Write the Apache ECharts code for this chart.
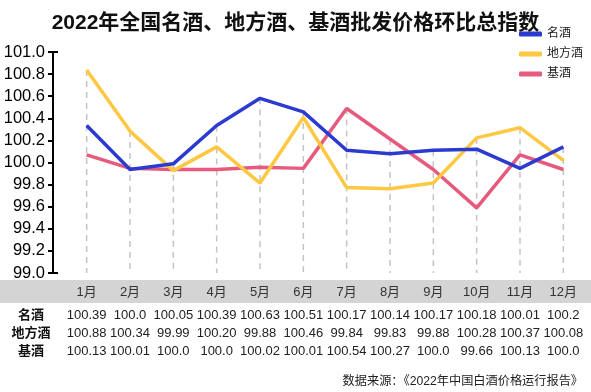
<!DOCTYPE html>
<html><head><meta charset="utf-8">
<script src="https://cdn.jsdelivr.net/npm/echarts@6/dist/echarts.min.js"></script>
<style>html,body{margin:0;padding:0;background:#fff;}#c{width:591px;height:392px;}</style>
</head><body><div id="c"></div>
<script>
const months = ['1月','2月','3月','4月','5月','6月','7月','8月','9月','10月','11月','12月'];
const seriesNames = ['名酒','地方酒','基酒'];
const mingjiu = [100.39,100.0,100.05,100.39,100.63,100.51,100.17,100.14,100.17,100.18,100.01,100.2];
const difangjiu = [100.88,100.34,99.99,100.20,99.88,100.46,99.84,99.83,99.88,100.28,100.37,100.08];
const jijiu = [100.13,100.01,100.0,100.0,100.02,100.01,100.54,100.27,100.0,99.66,100.13,100.0];
const mingjiuText = ['100.39','100.0','100.05','100.39','100.63','100.51','100.17','100.14','100.17','100.18','100.01','100.2'];
const difangjiuText = ['100.88','100.34','99.99','100.20','99.88','100.46','99.84','99.83','99.88','100.28','100.37','100.08'];
const jijiuText = ['100.13','100.01','100.0','100.0','100.02','100.01','100.54','100.27','100.0','99.66','100.13','100.0'];
const yTickMin = 99.0, yTickMax = 101.0, yTickStep = 0.2;
const title = '2022年全国名酒、地方酒、基酒批发价格环比总指数';
const source = '数据来源：《2022年中国白酒价格运行报告》';

const FONT = "'Liberation Sans','Noto Sans CJK SC',sans-serif";
const colors = ['#2b3bd0','#fec842','#e65b7d'];
// the plotted lines in the reference sit slightly below the printed tick labels
const dataMin = 99.084, dataMax = 101.040;
const dropTop = months.map((m,i)=>[i, Math.max(mingjiu[i], difangjiu[i], jijiu[i])]);

const chart = echarts.init(document.getElementById('c'), null, {renderer:'canvas'});
const rowAxis = (texts, off) => ({
  type:'category', data:texts, gridIndex:0, position:'bottom', offset:off,
  axisLine:{show:false}, axisTick:{show:false}, splitLine:{show:false},
  axisLabel:{interval:0, margin:13, fontSize:13, color:'#222', fontFamily:FONT}
});
chart.setOption({
  animation:false,
  textStyle:{fontFamily:FONT},
  title:{text:title, left:'center', top:8, textStyle:{fontSize:21, fontWeight:'bold', color:'#111', fontFamily:FONT}},
  legend:{
    data:seriesNames, orient:'vertical', right:3, top:23, itemGap:8,
    icon:'roundRect', itemWidth:23, itemHeight:5, align:'left',
    textStyle:{fontSize:12, color:'#222', fontFamily:FONT}
  },
  grid:{left:65, right:6, top:52, height:221, containLabel:false},
  xAxis:[
    {type:'category', data:months, position:'bottom',
     axisLine:{show:false}, axisTick:{show:false},
     axisLabel:{interval:0, margin:13, fontSize:13, color:'#333', fontFamily:FONT}},
    rowAxis(mingjiuText, 23),
    rowAxis(difangjiuText, 41),
    rowAxis(jijiuText, 59)
  ],
  yAxis:[
    {type:'value', min:yTickMin, max:yTickMax, interval:yTickStep, offset:12,
     axisLine:{show:true, lineStyle:{color:'#000', width:2}},
     axisTick:{show:true, length:5, lineStyle:{color:'#000', width:2}},
     splitLine:{show:false},
     axisLabel:{margin:8, fontSize:16.5, color:'#000', fontFamily:FONT, formatter:v=>v.toFixed(1)}},
    {type:'value', min:dataMin, max:dataMax, show:false},
    {type:'value', min:yTickMin, max:yTickMax, interval:yTickMax-yTickMin, offset:12,
     position:'left',
     axisLine:{show:true, lineStyle:{color:'#000', width:2}},
     axisTick:{show:true, inside:true, length:5, lineStyle:{color:'#000', width:2}},
     axisLabel:{show:false}, splitLine:{show:false}}
  ],
  graphic:[
    {type:'rect', left:0, top:280, shape:{width:591, height:23}, style:{fill:'#d4d4d4'}, z:-100, silent:true},
    {type:'text', x:31, y:315, style:{text:'名酒', fill:'#111', font:'bold 13px '+FONT, textAlign:'center', textVerticalAlign:'middle'}},
    {type:'text', x:31, y:333, style:{text:'地方酒', fill:'#111', font:'bold 13px '+FONT, textAlign:'center', textVerticalAlign:'middle'}},
    {type:'text', x:31, y:351, style:{text:'基酒', fill:'#111', font:'bold 13px '+FONT, textAlign:'center', textVerticalAlign:'middle'}},
    {type:'text', right:8, top:376, style:{text:source, font:'12.2px '+FONT, fill:'#222'}}
  ],
  series:[
    {type:'custom', yAxisIndex:1, data:dropTop, silent:true, z:1,
     renderItem:(params, api)=>{
       const top = api.coord([api.value(0), api.value(1)]);
       const bot = api.coord([api.value(0), dataMin]);
       return {type:'line', shape:{x1:top[0], y1:top[1], x2:bot[0], y2:bot[1]},
               style:{stroke:'#c4c4c4', lineWidth:1.5, lineDash:[6,5]}};
     }},
    {name:seriesNames[0], type:'line', yAxisIndex:1, data:mingjiu, symbol:'none', z:4,
     lineStyle:{color:colors[0], width:3.5}, itemStyle:{color:colors[0]}},
    {name:seriesNames[1], type:'line', yAxisIndex:1, data:difangjiu, symbol:'none', z:3,
     lineStyle:{color:colors[1], width:3.5}, itemStyle:{color:colors[1]}},
    {name:seriesNames[2], type:'line', yAxisIndex:1, data:jijiu, symbol:'none', z:2,
     lineStyle:{color:colors[2], width:3.5}, itemStyle:{color:colors[2]}}
  ]
});
</script></body></html>
